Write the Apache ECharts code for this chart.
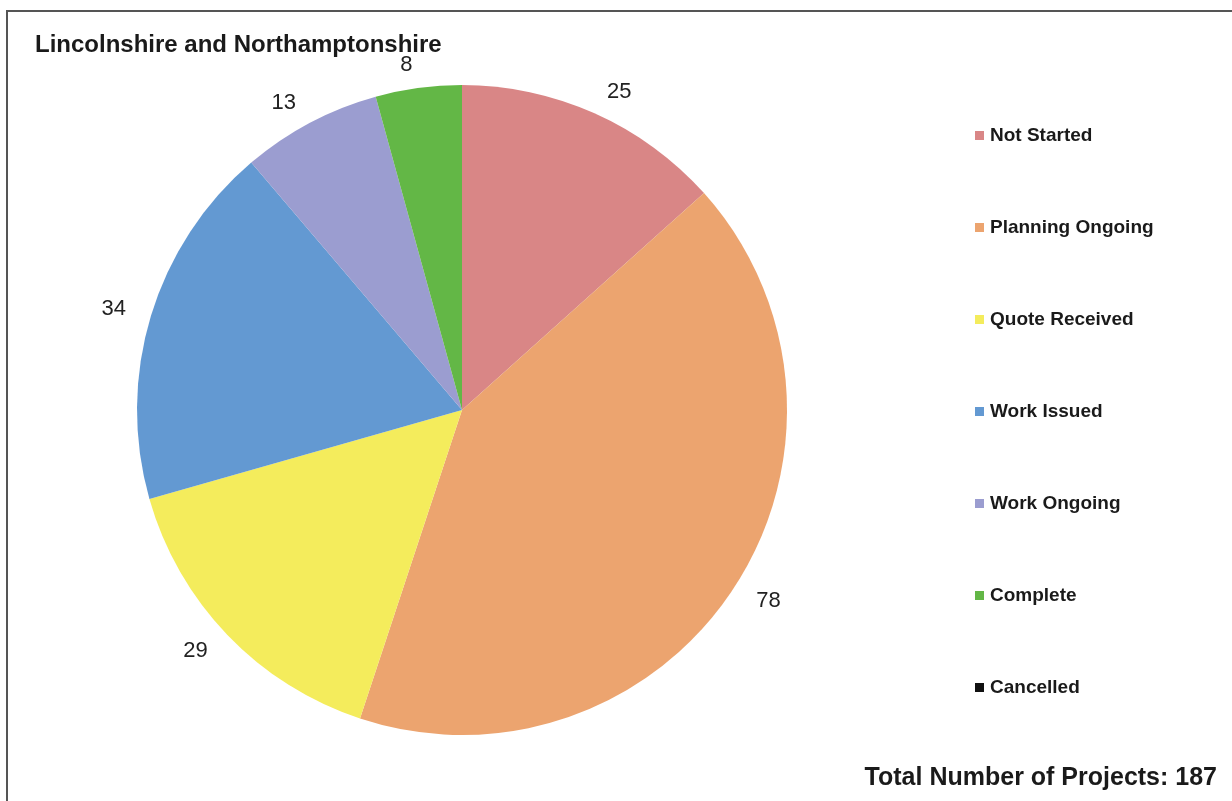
<!DOCTYPE html>
<html>
<head>
<meta charset="utf-8">
<title>Lincolnshire and Northamptonshire</title>
<script src="https://cdn.jsdelivr.net/npm/echarts@6/dist/echarts.min.js"></script>
<style>
  html, body { margin: 0; padding: 0; background: #ffffff; }
  #chart { width: 1232px; height: 801px; }
</style>
</head>
<body>
<div id="chart"></div>
<script>
// Project status counts for the region
const categories = ['Not Started', 'Planning Ongoing', 'Quote Received', 'Work Issued', 'Work Ongoing', 'Complete', 'Cancelled'];
const projectCounts = [25, 78, 29, 34, 13, 8, 0];
const statusColors = ['#d98686', '#eca46f', '#f4ec5c', '#6399d2', '#9b9dd0', '#63b746', '#111111'];

const chartTitle = 'Lincolnshire and Northamptonshire';
const totalProjects = projectCounts.reduce((a, b) => a + b, 0);
const totalLabel = 'Total Number of Projects: ' + totalProjects;

const fontFamily = '"Liberation Sans", Arial, Helvetica, sans-serif';

const pieData = categories.map((name, i) => {
  const item = { name: name, value: projectCounts[i], itemStyle: { color: statusColors[i] } };
  if (projectCounts[i] === 0) {
    item.label = { show: false };
  }
  return item;
});

const chart = echarts.init(document.getElementById('chart'), null, { renderer: 'canvas' });

chart.setOption({
  backgroundColor: '#ffffff',
  animation: false,
  title: [
    {
      text: chartTitle,
      left: 30,
      top: 28,
      textStyle: { fontFamily: fontFamily, fontSize: 24, fontWeight: 'bold', color: '#1a1a1a' }
    },
    {
      text: totalLabel,
      right: 10,
      top: 761,
      textStyle: { fontFamily: fontFamily, fontSize: 25, fontWeight: 'bold', color: '#1a1a1a' }
    }
  ],
  legend: {
    orient: 'vertical',
    left: 970,
    top: 121,
    itemWidth: 9,
    itemHeight: 9,
    itemGap: 73,
    icon: 'rect',
    selectedMode: false,
    data: categories,
    textStyle: { fontFamily: fontFamily, fontSize: 19, fontWeight: 'bold', color: '#1a1a1a', padding: [0, 0, 0, 1] }
  },
  graphic: [
    {
      type: 'polyline',
      silent: true,
      shape: { points: [[7, 801], [7, 11], [1232, 11]] },
      style: { stroke: '#555555', lineWidth: 2, fill: null }
    }
  ],
  series: [
    {
      type: 'pie',
      center: [462, 410],
      radius: 325,
      startAngle: 90,
      clockwise: true,
      avoidLabelOverlap: false,
      silent: true,
      data: pieData,
      itemStyle: { borderWidth: 0 },
      label: {
        show: true,
        position: 'outside',
        formatter: '{c}',
        distanceToLabelLine: 3,
        fontFamily: fontFamily,
        fontSize: 22,
        color: '#222222'
      },
      labelLine: { show: false, length: 23, length2: 0 }
    }
  ]
});
</script>
</body>
</html>
